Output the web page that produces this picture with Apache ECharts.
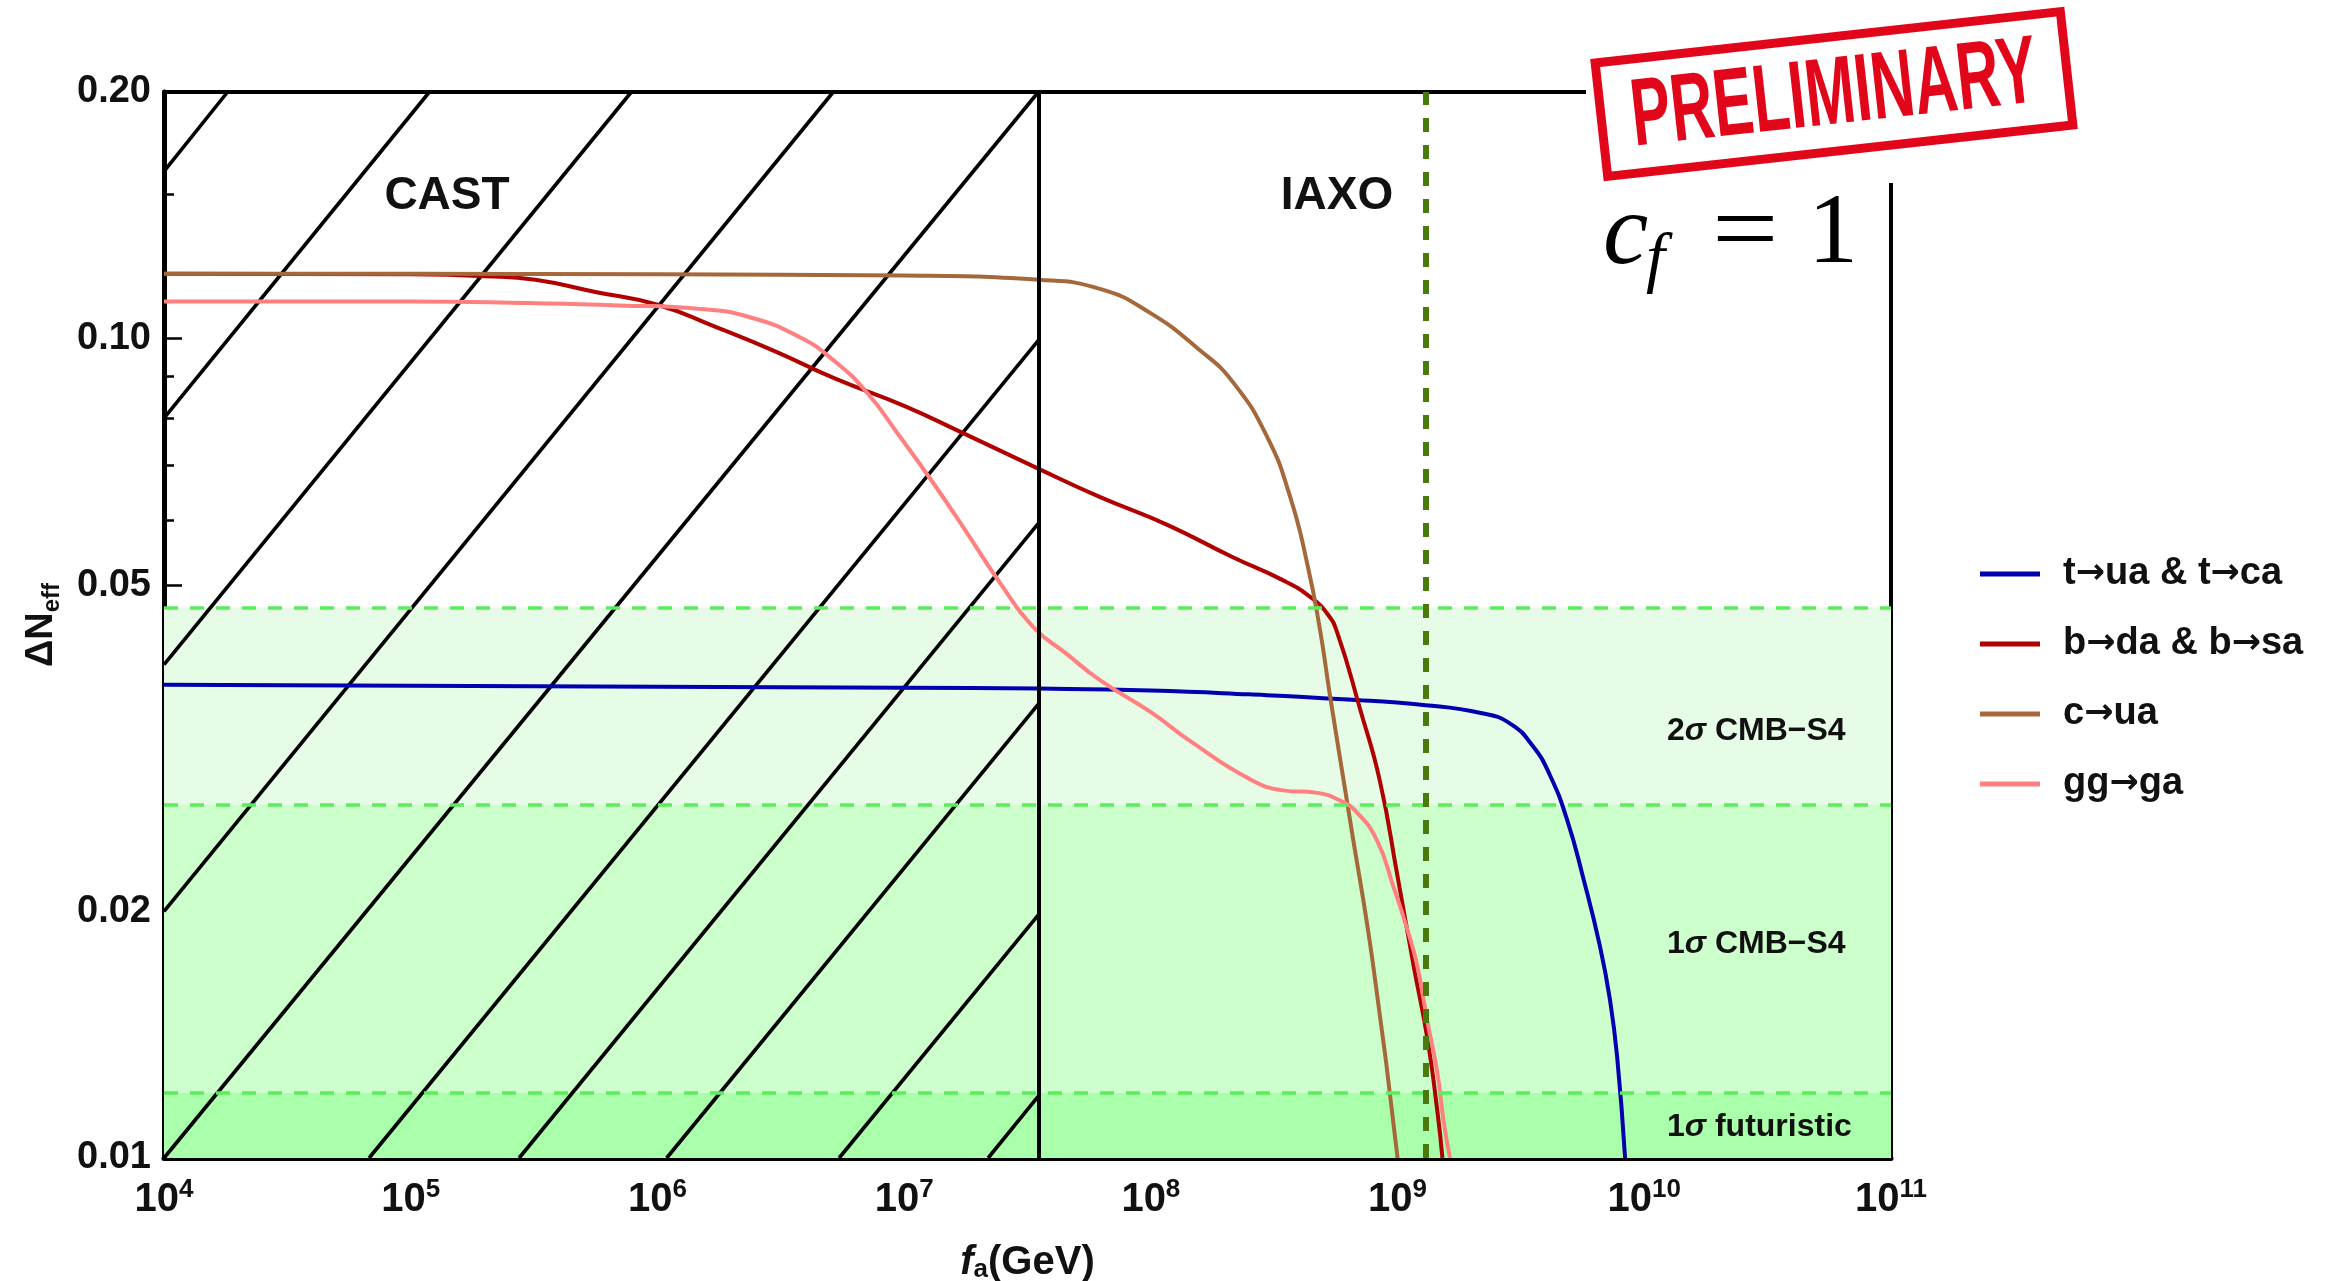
<!DOCTYPE html>
<html><head><meta charset="utf-8">
<script src="https://cdn.jsdelivr.net/npm/echarts@6/dist/echarts.min.js"></script>
<style>html,body{margin:0;padding:0;background:#fff;}#c{width:2334px;height:1281px;}</style>
</head><body><div id="c"></div>
<script>
// ---------- data ----------
const seriesNames = ['t→ua & t→ca', 'b→da & b→sa', 'c→ua', 'gg→ga'];
const seriesColors = ['#0000b0', '#b00000', '#a5683a', '#ff8080'];

const blueX = [1e4, 1e5, 1e6, 1e7, 3.5e7, 1e8, 2.5e8, 6e8, 1.3e9, 2.2e9, 2.86e9, 3.54e9, 4.15e9, 4.86e9, 5.65e9, 6.62e9, 7.26e9, 7.76e9, 8.36e9];
const blueY = [0.0378, 0.0377, 0.0376, 0.0375, 0.0374, 0.0372, 0.0368, 0.0363, 0.0357, 0.0349, 0.0339, 0.0318, 0.0293, 0.0259, 0.0220, 0.0181, 0.0156, 0.0133, 0.0100];

const redX = [1e4, 1e5, 2e5, 3.2e5, 5.6e5, 1e6, 1.7e6, 3e6, 5.2e6, 1e7, 1.7e7, 3.46e7, 6.2e7, 1.16e8, 2.15e8, 3.44e8, 4.42e8, 5.18e8, 5.69e8, 7.05e8, 8.49e8, 9.96e8, 1.16e9, 1.32e9, 1.45e9, 1.52e9];
const redY = [0.120, 0.1198, 0.1192, 0.118, 0.114, 0.1100, 0.1035, 0.0965, 0.0895, 0.0828, 0.0769, 0.0695, 0.0641, 0.0593, 0.0541, 0.0507, 0.0484, 0.0462, 0.0438, 0.0353, 0.0288, 0.0222, 0.0172, 0.0140, 0.0114, 0.0100];

const brownX = [1e4, 1e5, 1e6, 1e7, 3.49e7, 6.22e7, 9.93e7, 1.58e8, 2.15e8, 2.96e8, 3.67e8, 4.3e8, 4.85e8, 5.32e8, 6.41e8, 7.96e8, 1e9];
const brownY = [0.120, 0.120, 0.1198, 0.1194, 0.118, 0.115, 0.1075, 0.0968, 0.0885, 0.0759, 0.0641, 0.0532, 0.0441, 0.0367, 0.0259, 0.0172, 0.0100];

const pinkX = [1e4, 1e5, 3e5, 7e5, 1.49e6, 2.37e6, 3.78e6, 5.15e6, 7.08e6, 9.62e6, 1.31e7, 1.8e7, 2.45e7, 3.33e7, 4.57e7, 6.22e7, 1e8, 1.46e8, 2.52e8, 3.44e8, 4.72e8, 5.85e8, 6.85e8, 8.26e8, 9.59e8, 1.09e9, 1.2e9, 1.32e9, 1.45e9, 1.53e9, 1.63e9];
const pinkY = [0.111, 0.111, 0.1105, 0.1098, 0.1087, 0.1062, 0.1004, 0.0942, 0.0859, 0.0759, 0.0667, 0.0579, 0.0503, 0.0445, 0.0412, 0.0383, 0.0350, 0.0322, 0.0290, 0.0281, 0.0279, 0.0273, 0.0264, 0.0244, 0.0215, 0.0191, 0.0172, 0.0147, 0.0127, 0.0112, 0.0100];

// CAST hatch lines (start / end points)
const hatchStartX = [1e4, 1e4, 1e4, 1e4, 1e4, 6.78e4, 2.75e5, 1.09e6, 5.45e6, 2.19e7];
const hatchStartY = [0.16, 0.08, 0.04, 0.02, 0.01, 0.01, 0.01, 0.01, 0.01, 0.01];
const hatchEndX = [1.81e4, 1.19e5, 7.84e5, 5.16e6, 3.5e7, 3.5e7, 3.5e7, 3.5e7, 3.5e7, 3.5e7];
const hatchEndY = [0.2, 0.2, 0.2, 0.2, 0.2, 0.0995, 0.0595, 0.0358, 0.0198, 0.0119];

const castBoundary = 3.5e7;
const refLineX = 1.3e9;
const bandLimits = [0.01, 0.012, 0.027, 0.047];
const bandColors = ['#aaffaa', '#ccffcc', '#e6fce6'];

const yMajorTicks = [0.01, 0.02, 0.05, 0.1, 0.2];
const yMinorTicks = [0.015, 0.03, 0.04, 0.06, 0.07, 0.08, 0.09, 0.15];
const xRange = [1e4, 1e11];
const yRange = [0.01, 0.2];

// ---------- chart ----------
const FF = '"Liberation Sans", Arial, sans-serif';
const chart = echarts.init(document.getElementById('c'), null, {renderer: 'canvas'});

function pairs(xs, ys) { return xs.map((x, i) => [x, ys[i]]); }

const series = [];
series.push({
  type: 'line', data: [[xRange[0], yRange[0]]], symbol: 'none', lineStyle: {opacity: 0}, z: 1, silent: true,
  markArea: {
    silent: true,
    data: bandColors.map((c, i) => [{yAxis: bandLimits[i], itemStyle: {color: c}}, {yAxis: bandLimits[i + 1]}])
  },
  markLine: {
    silent: true, symbol: 'none', label: {show: false}, precision: 5,
    lineStyle: {color: '#5cec5c', width: 3.5, type: [14, 12]},
    data: bandLimits.slice(1).map(v => ({yAxis: v}))
  }
});
hatchStartX.forEach((sx, i) => {
  series.push({
    type: 'line', data: [[sx, hatchStartY[i]], [hatchEndX[i], hatchEndY[i]]],
    symbol: 'none', silent: true, z: 2, lineStyle: {color: '#000', width: 3.6}
  });
});
[[blueX, blueY], [redX, redY], [brownX, brownY], [pinkX, pinkY]].forEach((xy, i) => {
  series.push({
    name: seriesNames[i], type: 'line', data: pairs(xy[0], xy[1]), symbol: 'none', smooth: 0.5,
    z: 3, lineStyle: {color: seriesColors[i], width: 4}, itemStyle: {color: seriesColors[i]}
  });
});
series.push({
  type: 'line', data: [[xRange[0], yRange[0]]], symbol: 'none', lineStyle: {opacity: 0}, z: 4, silent: true,
  markLine: {
    silent: true, symbol: 'none', label: {show: false}, precision: 5,
    data: [
      {xAxis: castBoundary, lineStyle: {color: '#000', width: 4, type: 'solid'}},
      {xAxis: refLineX, lineStyle: {color: '#4b7a0c', width: 6, type: [14, 13]}}
    ]
  }
});

const bandRich = {a: {font: 'bold 32px ' + FF, fill: '#111'}, s: {font: 'italic bold 32px ' + FF, fill: '#111'}};

const option = {
  animation: false,
  backgroundColor: '#fff',
  grid: {left: 164, right: 443, top: 92, bottom: 123, containLabel: false, outerBoundsMode: 'none'},
  legend: {
    data: seriesNames, orient: 'vertical', left: 1980, top: 555, itemWidth: 60, itemHeight: 5,
    icon: 'rect', itemGap: 32, padding: 0,
    formatter: n => n.replace(/→/g, '{r|→}'),
    textStyle: {
      fontFamily: FF, fontWeight: 'bold', fontSize: 38, color: '#111', padding: [0, 0, 0, 18],
      rich: {r: {fontFamily: '"DejaVu Sans", sans-serif', fontWeight: 'bold', fontSize: 35, color: '#111'}}
    }
  },
  xAxis: [{
    type: 'log', logBase: 10, min: xRange[0], max: xRange[1],
    axisLine: {lineStyle: {color: '#000', width: 5}},
    axisTick: {inside: true, length: 11, lineStyle: {color: '#000', width: 3}},
    splitLine: {show: false},
    axisLabel: {
      margin: 19, color: '#111',
      formatter: v => '{b|10}{s|' + Math.round(Math.log10(v)) + '}',
      rich: {
        b: {fontFamily: FF, fontWeight: 'bold', fontSize: 40, lineHeight: 46, color: '#111'},
        s: {fontFamily: FF, fontWeight: 'bold', fontSize: 26, lineHeight: 26, verticalAlign: 'top', color: '#111'}
      }
    },
    name: '{i|f}{s|a}{n|(GeV)}', nameLocation: 'middle', nameGap: 85,
    nameTextStyle: {
      rich: {
        i: {fontFamily: FF, fontWeight: 'bold', fontStyle: 'italic', fontSize: 40, lineHeight: 40, color: '#111'},
        s: {fontFamily: FF, fontWeight: 'bold', fontSize: 26, lineHeight: 26, verticalAlign: 'bottom', color: '#111'},
        n: {fontFamily: FF, fontWeight: 'bold', fontSize: 40, lineHeight: 40, color: '#111'}
      }
    }
  }, {
    type: 'log', logBase: 10, min: xRange[0], max: xRange[1], position: 'top',
    axisLine: {lineStyle: {color: '#000', width: 4}}, axisTick: {show: false}, axisLabel: {show: false}, splitLine: {show: false}
  }],
  yAxis: [{
    type: 'log', logBase: 10, min: yRange[0], max: yRange[1], position: 'left',
    axisLine: {lineStyle: {color: '#000', width: 5}},
    axisTick: {inside: true, length: 18, customValues: yMajorTicks, lineStyle: {color: '#000', width: 2.5}},
    splitLine: {show: false},
    axisLabel: {
      customValues: yMajorTicks, margin: 13, formatter: v => v.toFixed(2),
      fontFamily: FF, fontWeight: 'bold', fontSize: 38, color: '#111'
    },
    name: '{d|ΔN}{s|eff}', nameLocation: 'middle', nameGap: 100, nameRotate: 90,
    nameTextStyle: {
      rich: {
        d: {fontFamily: FF, fontWeight: 'bold', fontSize: 38, lineHeight: 44, color: '#111'},
        s: {fontFamily: FF, fontWeight: 'bold', fontSize: 24, lineHeight: 26, verticalAlign: 'bottom', color: '#111'}
      }
    }
  }, {
    type: 'log', logBase: 10, min: yRange[0], max: yRange[1], position: 'left', offset: 0,
    axisLine: {show: false},
    axisTick: {inside: true, length: 10, customValues: yMinorTicks, lineStyle: {color: '#000', width: 2.5}},
    axisLabel: {show: false}, splitLine: {show: false}
  }, {
    type: 'log', logBase: 10, min: yRange[0], max: yRange[1], position: 'right', offset: 0,
    axisLine: {lineStyle: {color: '#000', width: 4}}, axisTick: {show: false}, axisLabel: {show: false}, splitLine: {show: false}
  }],
  series: series,
  graphic: [
    {type: 'text', z: 50, position: [447, 196], style: {text: 'CAST', font: 'bold 46px ' + FF, fill: '#111', align: 'center', verticalAlign: 'middle'}},
    {type: 'text', z: 50, position: [1337, 196], style: {text: 'IAXO', font: 'bold 46px ' + FF, fill: '#111', align: 'center', verticalAlign: 'middle'}},
    {type: 'text', z: 50, position: [1667, 731], style: {text: '{a|2}{s|σ}{a| CMB−S4}', verticalAlign: 'middle', rich: bandRich}},
    {type: 'text', z: 50, position: [1667, 944], style: {text: '{a|1}{s|σ}{a| CMB−S4}', verticalAlign: 'middle', rich: bandRich}},
    {type: 'text', z: 50, position: [1667, 1127], style: {text: '{a|1}{s|σ}{a| futuristic}', verticalAlign: 'middle', rich: bandRich}},
    // c_f = 1
    {type: 'text', z: 50, position: [1603, 236], style: {text: 'c', font: 'italic 102px "Liberation Serif", serif', fill: '#000', verticalAlign: 'middle'}},
    {type: 'text', z: 50, position: [1646, 262], style: {text: 'f', font: 'italic 68px "Liberation Serif", serif', fill: '#000', verticalAlign: 'middle'}},
    {type: 'text', z: 50, position: [1712, 236], scale: [1.18, 1], style: {text: '=', font: '100px "Liberation Serif", serif', fill: '#000', verticalAlign: 'middle'}},
    {type: 'text', z: 50, position: [1808, 236], style: {text: '1', font: '100px "Liberation Serif", serif', fill: '#000', verticalAlign: 'middle'}},
    // stamp
    {type: 'rect', z: 90, shape: {x: 1586, y: 0, width: 500, height: 183}, style: {fill: '#fff'}},
    {type: 'group', z: 91, position: [1834, 94], rotation: 0.11, children: [
      {type: 'rect', z: 91, shape: {x: -234, y: -57, width: 468, height: 114}, style: {fill: '#fff', stroke: '#e2061a', lineWidth: 9}},
      {type: 'text', z: 92, position: [0, 3], scale: [0.62, 1], style: {text: 'PRELIMINARY', font: 'bold 96px ' + FF, fill: '#e2061a', align: 'center', verticalAlign: 'middle'}}
    ]}
  ]
};
chart.setOption(option);
</script>
</body></html>
